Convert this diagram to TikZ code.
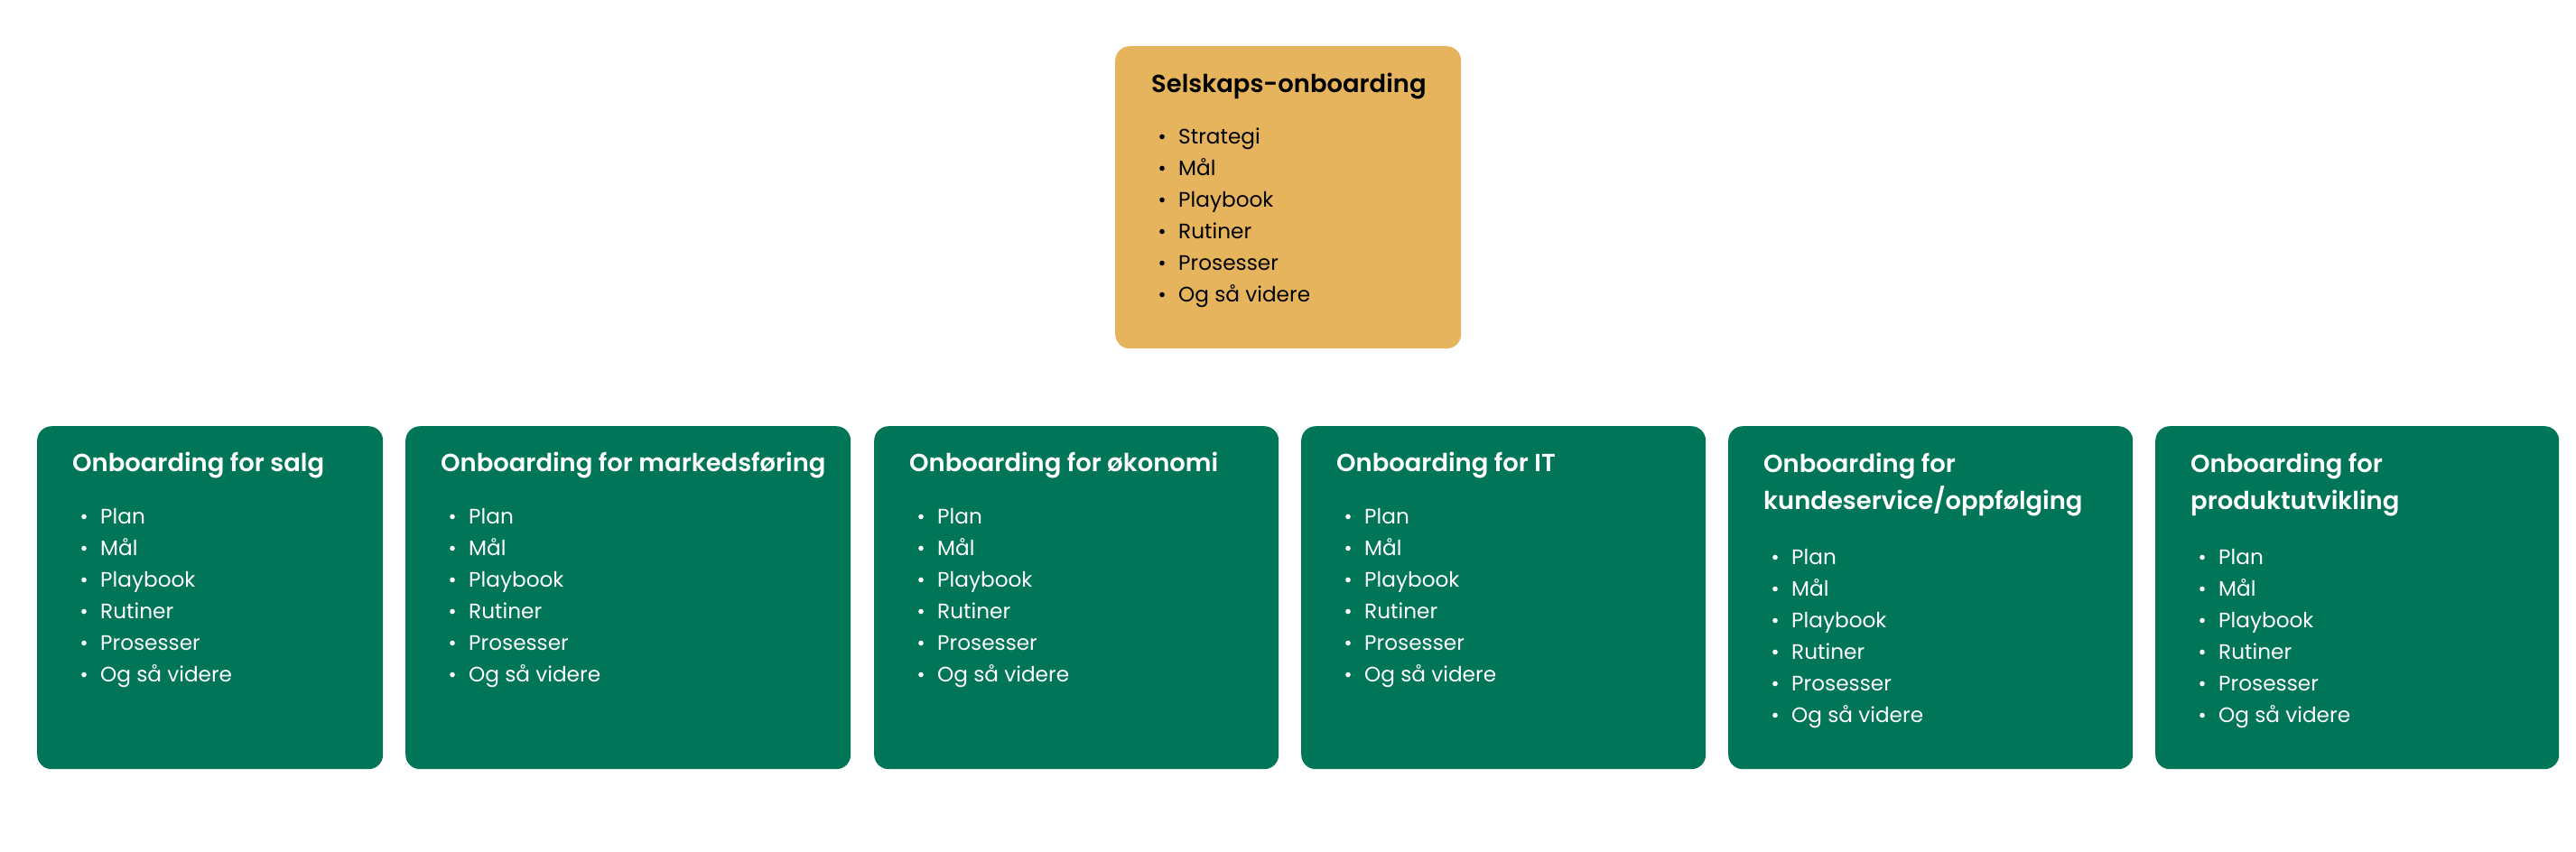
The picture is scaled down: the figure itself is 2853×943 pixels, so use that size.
\documentclass[tikz,border=0pt]{standalone}
\usepackage{fontspec}
\setmainfont{Poppins}
\newfontfamily\titlefont{Poppins SemiBold}
\definecolor{boxgreen}{RGB}{0,117,87}
\definecolor{boxyellow}{RGB}{230,180,92}
\tikzset{
  x=1pt, y=-1pt,
  card/.style={rounded corners=16pt, inner sep=0pt, anchor=north west},
  greencard/.style={card, fill=boxgreen},
  yellowcard/.style={card, fill=boxyellow},
  cardtitle/.style={font=\titlefont\fontsize{27.4}{41}\selectfont, anchor=base west, inner sep=0pt, align=left},
  itemtext/.style={font=\fontsize{23.2}{35}\selectfont, anchor=base west, inner sep=0pt},
}
\newcommand\itemlist[5]{% name, x (card left), first baseline, colour, items
  \foreach \t [count=\i] in {#5} {
    \node[itemtext, text=#4] (#1-\i) at (#2+70, #3+35*\i-35) {\t};
    \fill[#4] (#2+52, #3+35*\i-35-7.5) circle (2.8pt);
  }}
\begin{document}
\begin{tikzpicture}
\useasboundingbox (0,0) rectangle (2853,943);
% top card
\node[yellowcard, minimum width=383pt, minimum height=335pt] (top) at (1235,51) {};
\node[cardtitle, text=black] (top-t) at (1275,102) {Selskaps-onboarding};
\itemlist{top}{1235}{159}{black}{Strategi,Mål,Playbook,Rutiner,Prosesser,Og så videre}
% department cards
\node[greencard, minimum width=383pt, minimum height=380pt] (c1) at (41,472) {};
\node[cardtitle, text=white] (c1-t) at (41+39,522.5) {Onboarding for salg};
\itemlist{c1}{41}{580}{white}{Plan,Mål,Playbook,Rutiner,Prosesser,Og så videre}

\node[greencard, minimum width=493pt, minimum height=380pt] (c2) at (449,472) {};
\node[cardtitle, text=white] (c2-t) at (449+39,522.5) {Onboarding for markedsføring};
\itemlist{c2}{449}{580}{white}{Plan,Mål,Playbook,Rutiner,Prosesser,Og så videre}

\node[greencard, minimum width=448pt, minimum height=380pt] (c3) at (968,472) {};
\node[cardtitle, text=white] (c3-t) at (968+39,522.5) {Onboarding for økonomi};
\itemlist{c3}{968}{580}{white}{Plan,Mål,Playbook,Rutiner,Prosesser,Og så videre}

\node[greencard, minimum width=448pt, minimum height=380pt] (c4) at (1441,472) {};
\node[cardtitle, text=white] (c4-t) at (1441+39,522.5) {Onboarding for IT};
\itemlist{c4}{1441}{580}{white}{Plan,Mål,Playbook,Rutiner,Prosesser,Og så videre}

\node[greencard, minimum width=448pt, minimum height=380pt] (c5) at (1914,472) {};
\node[cardtitle, text=white] (c5-t) at (1914+39,564) {Onboarding for\\kundeservice/oppfølging};
\itemlist{c5}{1914}{625}{white}{Plan,Mål,Playbook,Rutiner,Prosesser,Og så videre}

\node[greencard, minimum width=447pt, minimum height=380pt] (c6) at (2387,472) {};
\node[cardtitle, text=white] (c6-t) at (2387+39,564) {Onboarding for\\produktutvikling};
\itemlist{c6}{2387}{625}{white}{Plan,Mål,Playbook,Rutiner,Prosesser,Og så videre}
\end{tikzpicture}
\end{document}
